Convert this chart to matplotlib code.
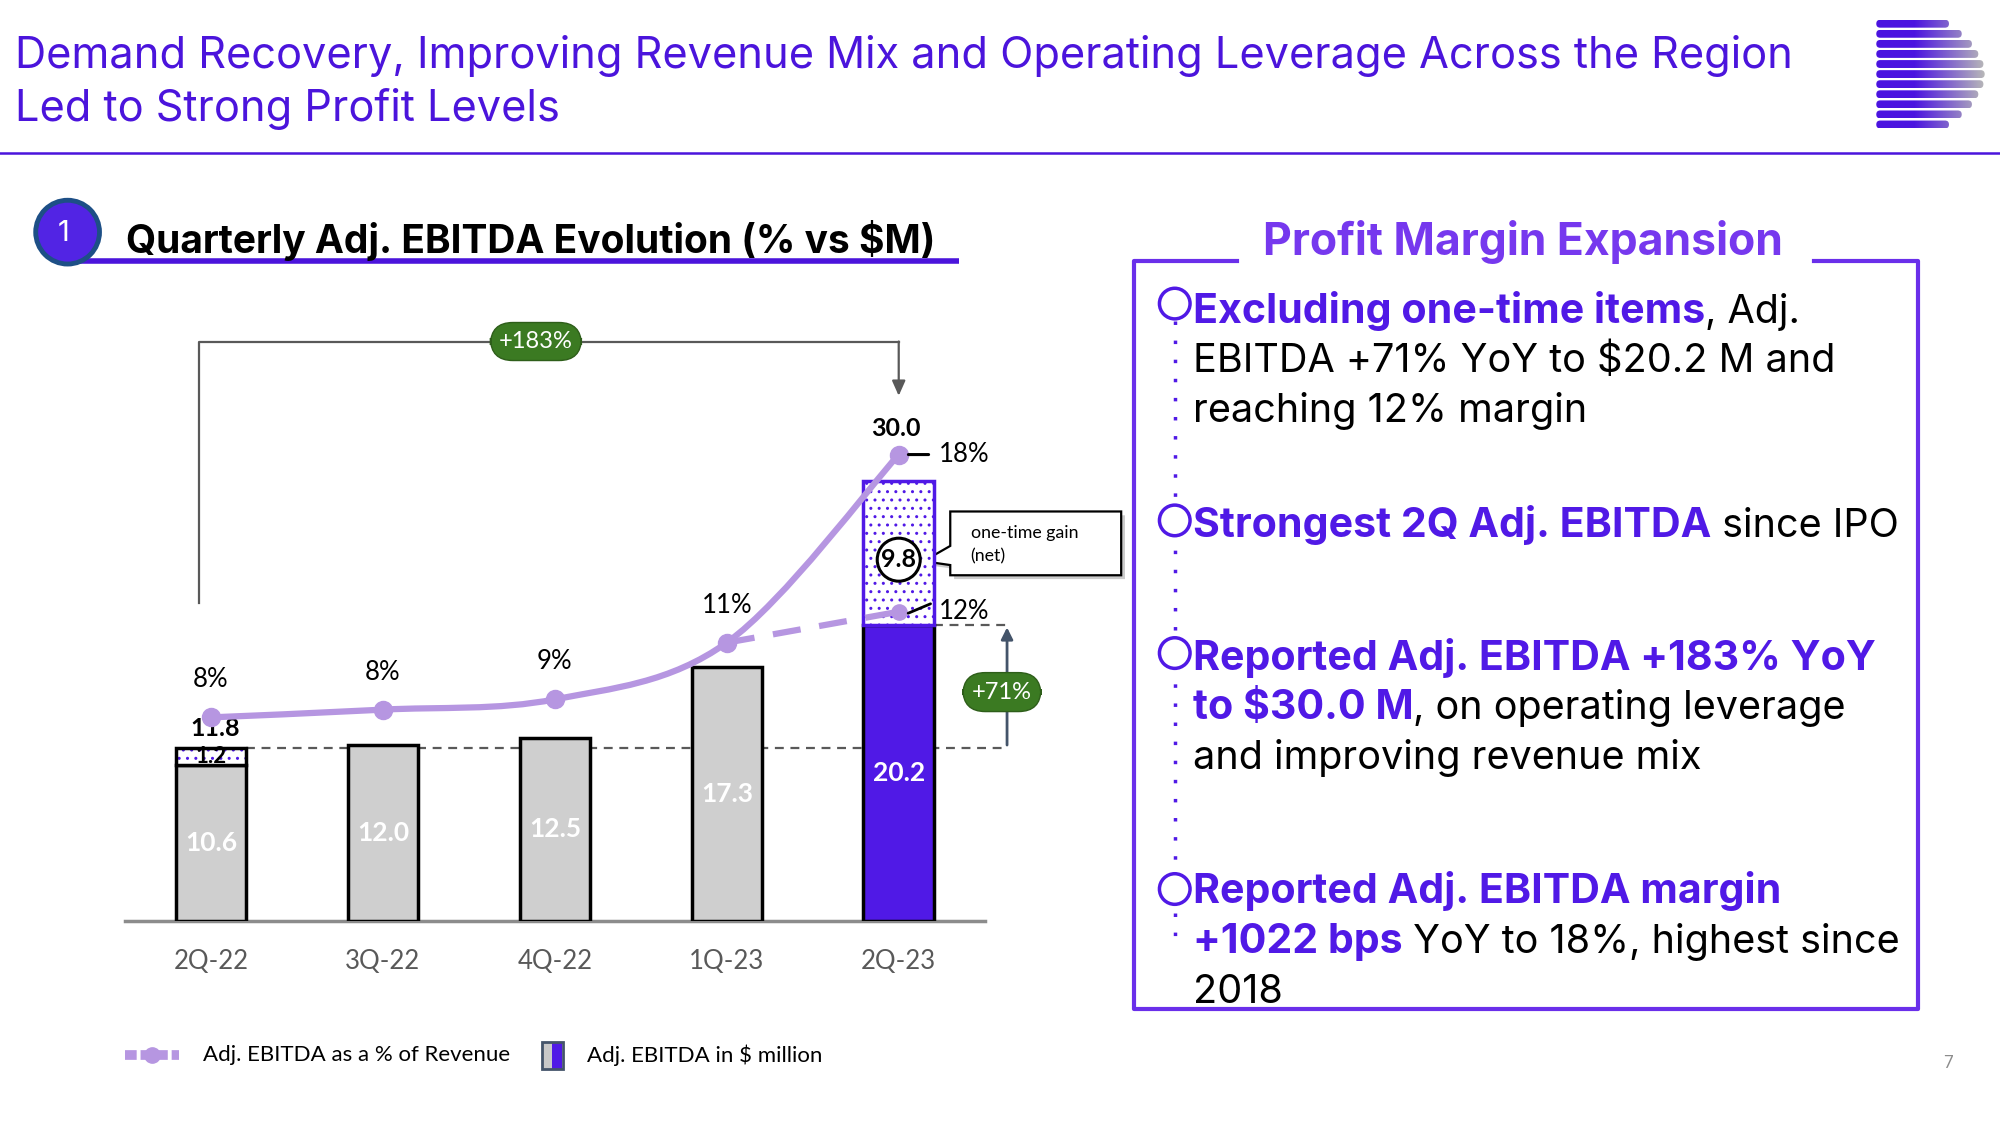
import numpy as np
import matplotlib
matplotlib.use("Agg")
import matplotlib.pyplot as plt
from matplotlib.patches import Circle, Rectangle, FancyBboxPatch, PathPatch, Polygon
from matplotlib.path import Path
from matplotlib.colors import LinearSegmentedColormap

# ---- data ----
quarters = ["2Q-22", "3Q-22", "4Q-22", "1Q-23", "2Q-23"]
ebitda_base = [10.6, 12.0, 12.5, 17.3, 20.2]      # $M, excl. one-time items
one_time = [1.2, 0.0, 0.0, 0.0, 9.8]             # $M, one-time gain (net)
margin = [7.9, 8.2, 8.6, 10.8, 18.1]             # reported Adj. EBITDA % of revenue
margin_labels = ["8%", "8%", "9%", "11%", "18%"]
margin_excl_last = 12.0                          # 2Q-23 margin excl. one-time items
margin_excl_label = "12%"

PURPLE = "#4B14DC"
BAR_PURPLE = "#5019E6"
HEAD_PURPLE = "#7638EE"
LIGHT = "#B696E1"
GRAY_BAR = "#CFCFCF"
GREEN = "#3B7A22"
DARK = "#595959"

TITLE_FONT = "Inter"
CHART_FONT = "Lato"

W, H = 1568, 882   # layout units (reference preview pixels)

fig = plt.figure(figsize=(20, 11.25), dpi=100)
ov = fig.add_axes([0, 0, 1, 1], zorder=0)
ov.set_xlim(0, W)
ov.set_ylim(H, 0)
ov.axis("off")

# ---- header ----
ov.text(12, 53, "Demand Recovery, Improving Revenue Mix and Operating Leverage Across the Region",
        fontsize=31.2, color=PURPLE, family=TITLE_FONT, va="baseline")
ov.text(12, 95, "Led to Strong Profit Levels", fontsize=31.2, color=PURPLE,
        family=TITLE_FONT, va="baseline")
ov.plot([0, W], [120, 120], color=PURPLE, lw=1.8)

# logo: gradient bars
cmap = LinearSegmentedColormap.from_list("logo", [(0, "#4B14E0"), (0.35, "#4B14E0"), (1, "#B8B8B8")])
grad = np.linspace(0, 1, 256).reshape(1, -1)
logo_len = [57, 67, 75, 80, 84, 85, 84, 80, 75, 67, 57]
for i, ln in enumerate(logo_len):
    y0 = 15.5 + i * 7.9
    patch = FancyBboxPatch((1471, y0), ln, 6.2, boxstyle="round,pad=0,rounding_size=3.1",
                           fc="none", ec="none")
    ov.add_patch(patch)
    im = ov.imshow(grad, extent=[1471, 1471 + 85, y0 + 6.2, y0], aspect="auto", cmap=cmap, zorder=2)
    im.set_clip_path(patch)
ov.set_xlim(0, W)
ov.set_ylim(H, 0)

# section header
ov.plot([60, 752], [205, 205], color=PURPLE, lw=4, solid_capstyle="butt", zorder=2)
ov.add_patch(Circle((53, 182), 25, fc="#5224E4", ec="#1D4F86", lw=3.5, zorder=3))
ov.text(50, 183, "1", color="white", fontsize=21, family=TITLE_FONT, ha="center", va="center", zorder=4)
ov.text(99, 198, "Quarterly Adj. EBITDA Evolution (% vs $M)", fontsize=28, fontweight="bold",
        family=TITLE_FONT, va="baseline", zorder=4)

# ---- chart ----
ax = fig.add_axes([98 / W, 1 - 722 / H, (772 - 98) / W, (722 - 250) / H], zorder=1)
ax.patch.set_alpha(0)
x = np.arange(len(quarters))
bw = 0.41
ax.set_xlim(-0.5, len(quarters) - 0.5)
ax.set_ylim(0, (722 - 250) / 11.5)

colors = [GRAY_BAR] * 4 + [BAR_PURPLE]
ax.bar(x, ebitda_base, width=bw, color=colors, edgecolor="black", linewidth=2.5, zorder=3)
total = [b + o for b, o in zip(ebitda_base, one_time)]
for i, o in enumerate(one_time):
    if o <= 0:
        continue
    ax.bar(x[i], o, bottom=ebitda_base[i], width=bw, color="white", hatch="..",
           edgecolor=BAR_PURPLE, linewidth=0, zorder=3)
    ax.bar(x[i], o, bottom=ebitda_base[i], width=bw, fill=False,
           edgecolor="black" if i < 4 else BAR_PURPLE, linewidth=2.5, zorder=4)

for s in ["left", "right", "top"]:
    ax.spines[s].set_visible(False)
ax.spines["bottom"].set_color("#8C8C8C")
ax.spines["bottom"].set_linewidth(2.5)
ax.set_yticks([])
ax.set_xticks(x)
ax.set_xticklabels(quarters, fontsize=18.5, color=DARK, family=CHART_FONT)
ax.tick_params(axis="x", length=0, pad=20)

# value labels
for i in range(len(quarters)):
    ax.text(x[i], ebitda_base[i] / 2, f"{ebitda_base[i]:.1f}", ha="center", va="center",
            color="white", fontsize=19, fontweight="bold", family=CHART_FONT, zorder=5)
ax.text(x[0], ebitda_base[0] + one_time[0] / 2, f"{one_time[0]:.1f}", ha="center", va="center",
        color="black", fontsize=16, fontweight="bold", family=CHART_FONT, zorder=5)
ax.annotate(f"{total[0]:.1f}", (x[0], total[0]), xytext=(3, 14), textcoords="offset points",
            ha="center", va="center", fontsize=18, fontweight="bold", family=CHART_FONT, zorder=6)
ax.annotate(f"{total[4]:.1f}", (x[4], total[4]), xytext=(-2, 38), textcoords="offset points",
            ha="center", va="center", fontsize=18, fontweight="bold", family=CHART_FONT, zorder=6)
ax.annotate(f"{one_time[4]:.1f}", (x[4], ebitda_base[4] + one_time[4] / 2), xytext=(0, -5),
            textcoords="offset points", ha="center", va="center",
            fontsize=18, fontweight="bold", family=CHART_FONT, zorder=6,
            bbox=dict(boxstyle="circle,pad=0.16", fc="white", ec="black", lw=2.2))

# +71% (excl. one-time) comparison
xr = x[4] + 0.63
ax.plot([x[0] + bw / 2, xr], [total[0], total[0]], ls=(0, (4, 3)), color=DARK, lw=1.6, clip_on=False, zorder=2)
ax.plot([x[4] + bw / 2, xr], [ebitda_base[4], ebitda_base[4]], ls=(0, (4, 3)), color=DARK, lw=1.6,
        clip_on=False, zorder=2)
ax.annotate("", xy=(xr, ebitda_base[4]), xytext=(xr, total[0]),
            arrowprops=dict(arrowstyle="-|>,head_length=0.7,head_width=0.35", color="#44546A", lw=2),
            annotation_clip=False, zorder=3)
ax.text(xr - 0.03, (total[0] + ebitda_base[4]) / 2 - 0.4, f"+{(ebitda_base[4] / total[0] - 1) * 100:.0f}%",
        ha="center", va="center", color="white", fontsize=17, family=CHART_FONT, zorder=6,
        bbox=dict(boxstyle="round,pad=0.38,rounding_size=0.95", fc=GREEN, ec="#2E5E1A", lw=1))

# +183% bracket
ytop = total[4] + 9.5
ax.plot([x[0] - 0.07, x[0] - 0.07, x[4]], [total[0] + 9.9, ytop, ytop], color=DARK, lw=1.6,
        clip_on=False, zorder=2)
ax.annotate("", xy=(x[4], total[4] + 5.8), xytext=(x[4], ytop),
            arrowprops=dict(arrowstyle="-|>,head_length=0.9,head_width=0.4", color=DARK, lw=1.6,
                            shrinkA=0, shrinkB=0), annotation_clip=False)
ax.text(1.89, ytop, f"+{(total[4] / ebitda_base[0] - 1) * 100:.0f}%", ha="center", va="center",
        color="white", fontsize=17, family=CHART_FONT, zorder=6,
        bbox=dict(boxstyle="round,pad=0.36,rounding_size=0.95", fc=GREEN, ec="#2E5E1A", lw=1))

# margin line on its own scale (zero aligned with bar baseline)
ax2 = ax.twinx()
ax2.set_ylim(0, (722 - 250) / 20.2)
ax2.axis("off")


def smooth_path(xs, ys):
    pts = np.column_stack([xs, ys]).astype(float)
    n = len(pts)
    verts, codes = [pts[0]], [Path.MOVETO]
    for i in range(n - 1):
        p0, p1 = pts[max(i - 1, 0)], pts[i]
        p2, p3 = pts[i + 1], pts[min(i + 2, n - 1)]
        verts += [p1 + (p2 - p0) / 6, p2 - (p3 - p1) / 6, p2]
        codes += [Path.CURVE4] * 3
    return Path(verts, codes)


ax2.add_patch(PathPatch(smooth_path(x, margin), fc="none", ec=LIGHT, lw=4.5, zorder=7, capstyle="round"))
ax2.plot(x[3:], [margin[3], margin_excl_last], color=LIGHT, lw=4.5, ls=(0, (4.5, 3)), zorder=7)
ax2.plot(x, margin, "o", color=LIGHT, ms=13, zorder=8)
ax2.plot(x[4], margin_excl_last, "o", color=LIGHT, ms=11, zorder=8)

for i in range(4):
    ax2.annotate(margin_labels[i], (x[i], margin[i]), xytext=(0, 27), textcoords="offset points",
                 ha="center", va="center", fontsize=18.5, family=CHART_FONT, zorder=9)
for val, lab in [(margin[4], margin_labels[4]), (margin_excl_last, margin_excl_label)]:
    ax2.annotate(lab, (x[4], val), xytext=(29, 0), textcoords="offset points",
                 ha="left", va="center", fontsize=18.5, family=CHART_FONT, zorder=9)
ax2.annotate("", xy=(x[4] + 0.04, margin[4]), xytext=(x[4] + 0.19, margin[4]),
             arrowprops=dict(arrowstyle="-", color="black", lw=2.2), zorder=9)
ax2.annotate("", xy=(x[4] + 0.04, margin_excl_last - 0.1), xytext=(x[4] + 0.2, margin_excl_last + 0.35),
             arrowprops=dict(arrowstyle="-", color="black", lw=2), zorder=9)

# callout "one-time gain (net)"
box = [(745, 401), (879, 401), (879, 451), (745, 451), (745, 443), (724, 440), (745, 428)]
ov.add_patch(Polygon([(px + 3, py + 3) for px, py in box], closed=True, fc="#9A9A9A", ec="none",
                     alpha=0.5, zorder=5))
ov.add_patch(Polygon(box, closed=True, fc="white", ec="black", lw=1.6, zorder=6))
ov.text(761, 418, "one-time gain", fontsize=12.8, family=CHART_FONT, va="center", zorder=7)
ov.text(761, 436, "(net)", fontsize=12.8, family=CHART_FONT, va="center", zorder=7)

# legend
ov.plot([98, 140], [827, 827], color=LIGHT, lw=7, ls=(0, (1.2, 0.4)), solid_capstyle="butt")
ov.plot([119], [827], "o", color=LIGHT, ms=11)
ov.text(159, 827, "Adj. EBITDA as a % of Revenue", fontsize=16, family=CHART_FONT, va="center")
ov.add_patch(Rectangle((425, 817), 8, 21, fc="#C8C8C8", ec="none"))
ov.add_patch(Rectangle((433, 817), 8, 21, fc=BAR_PURPLE, ec="none"))
ov.add_patch(Rectangle((425, 817), 16, 21, fc="none", ec="#44546A", lw=2))
ov.text(460, 827, "Adj. EBITDA in $ million", fontsize=16, family=CHART_FONT, va="center")

# ---- right panel ----
ov.plot([970, 889, 889, 1504, 1504, 1422], [205, 205, 791, 791, 205, 205], color="#6A2FEA", lw=3)
ov.text(1194, 200, "Profit Margin Expansion", fontsize=32, fontweight="bold", color=HEAD_PURPLE,
        family=TITLE_FONT, ha="center", va="baseline")
ov.plot([921, 921], [252, 745], color=BAR_PURPLE, lw=2.5, ls=(0, (1, 4.5)))
for by in [238, 408, 512, 697]:
    ov.add_patch(Circle((921, by), 12, fc="white", ec=BAR_PURPLE, lw=2.5, zorder=3))

renderer = fig.canvas.get_renderer()


def rich(x0, y0, parts, size=28.5, bold_size=29.6):
    xx = x0
    for txt, bold in parts:
        t = ov.text(xx, y0, txt, fontsize=bold_size if bold else size,
                    fontweight="bold" if bold else "normal",
                    color=BAR_PURPLE if bold else "black", family=TITLE_FONT, va="baseline", zorder=4)
        bb = t.get_window_extent(renderer=renderer)
        xx += bb.width * W / fig.bbox.width


lines = [
    (253, [("Excluding one-time items", True), (", Adj.", False)]),
    (292, [("EBITDA +71% YoY to $20.2 M and", False)]),
    (331, [("reaching 12% margin", False)]),
    (421, [("Strongest 2Q Adj. EBITDA", True), (" since IPO", False)]),
    (525, [("Reported Adj. EBITDA +183% YoY", True)]),
    (564, [("to $30.0 M", True), (", on operating leverage", False)]),
    (603, [("and improving revenue mix", False)]),
    (708, [("Reported Adj. EBITDA margin", True)]),
    (747, [("+1022 bps", True), (" YoY to 18%, highest since", False)]),
    (786, [("2018", False)]),
]
for ly, parts in lines:
    rich(935, ly, parts)

ov.text(1527, 833, "7", fontsize=12, color="#8C8C8C", family=CHART_FONT, ha="center", va="center")

fig.savefig("out.png", dpi=100)
